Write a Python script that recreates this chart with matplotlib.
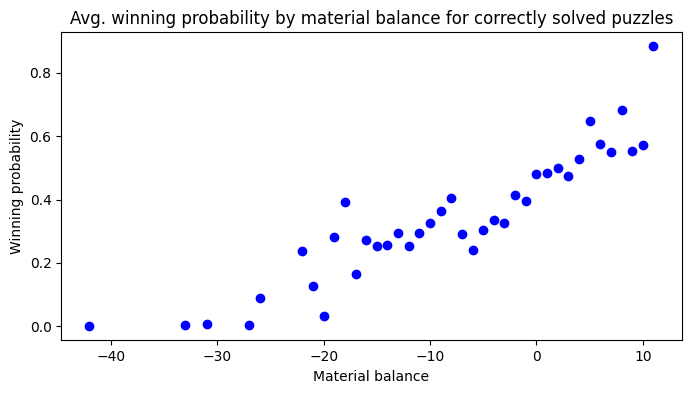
import matplotlib.pyplot as plt

material_balance = [-42, -33, -31, -27, -26, -22, -21, -20, -19, -18, -17, -16, -15,
                    -14, -13, -12, -11, -10, -9, -8, -7, -6, -5, -4, -3, -2, -1,
                    0, 1, 2, 3, 4, 5, 6, 7, 8, 9, 10, 11]
win_prob = [0.0, 0.003, 0.006, 0.003, 0.088, 0.237, 0.128, 0.032, 0.283, 0.391,
            0.166, 0.272, 0.252, 0.258, 0.294, 0.255, 0.294, 0.325, 0.365, 0.406,
            0.29, 0.24, 0.303, 0.337, 0.325, 0.414, 0.397, 0.48, 0.485, 0.499,
            0.474, 0.527, 0.647, 0.577, 0.549, 0.684, 0.553, 0.571, 0.884]

fig, ax = plt.subplots(figsize=(6.91, 3.93), dpi=100)
fig.subplots_adjust(left=0.0887, right=0.9865, top=0.9178, bottom=0.1341)

ax.scatter(material_balance, win_prob, color='blue')
ax.set_title('Avg. winning probability by material balance for correctly solved puzzles')
ax.set_xlabel('Material balance')
ax.set_ylabel('Winning probability')

fig.savefig('out.png', dpi=100)
